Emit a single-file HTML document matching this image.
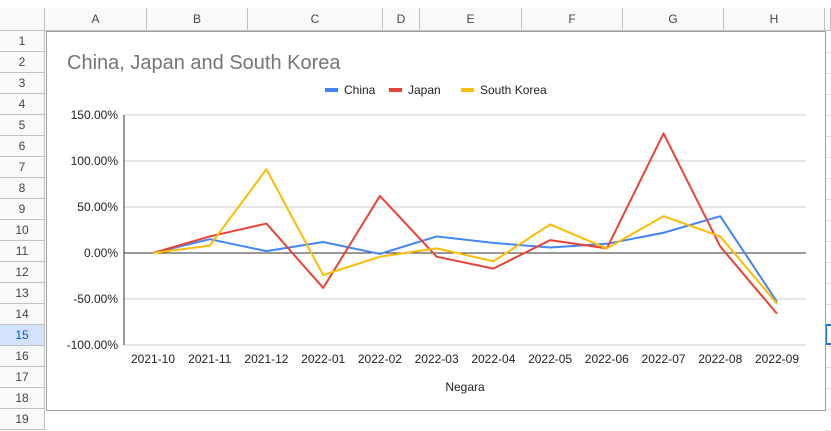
<!DOCTYPE html>
<html><head><meta charset="utf-8"><style>
body{margin:0;width:831px;height:419px;overflow:hidden;background:#fff;font-family:"Liberation Sans",Arial,sans-serif;position:relative}
.hdr{position:absolute;background:#f8f9fa;color:#444;font-size:12px;text-align:center;box-sizing:border-box;border-right:1px solid #c0c0c0;border-bottom:1px solid #c0c0c0}
</style></head><body>
<div id="grid"></div>
<svg id="chart" width="780" height="380" style="position:absolute;left:46px;top:31px;background:#fff;border:1px solid #9e9e9e;box-sizing:border-box"></svg>
<script>
const categories=["2021-10","2021-11","2021-12","2022-01","2022-02","2022-03","2022-04","2022-05","2022-06","2022-07","2022-08","2022-09"];
const china=[0,15,2,12,-1,18,11,6,10,22,40,-53];
const japan=[0,18,32,-38,62,-4,-17,14,5,130,7,-66];
const korea=[0,8,91,-24,-4,5,-9,31,5,40,18,-55];
const yTicks=[150,100,50,0,-50,-100];
const yTickLabels=["150.00%","100.00%","50.00%","0.00%","-50.00%","-100.00%"];

// spreadsheet
const grid=document.getElementById('grid');
const cols=[["A",45,147],["B",147,248],["C",248,383],["D",383,420],["E",420,522],["F",522,623],["G",623,724],["H",724,825]];
function mk(x,y,w,h,t,name,bg,col){const d=document.createElement('div');d.className='hdr';


d.style.cssText=`left:${x}px;top:${y}px;width:${w}px;height:${h}px;line-height:${h}px;${bg?'background:'+bg+';':''}${col?'color:'+col+';':''}`;d.textContent=t;grid.appendChild(d);}
mk(0,8,45,23,"","select-all-corner","#f8f9fa");
cols.forEach(c=>mk(c[1],8,c[2]-c[1],23,c[0],"column-header-"+c[0].toLowerCase()));
mk(825,8,6,23,"","column-header-next");
for(let r=1;r<=19;r++){mk(0,31+21*(r-1),45,21,String(r),"row-header-"+r,r==15?"#d3e3fd":null,r==15?"#0b57d0":null);}
for(let r=1;r<=19;r++){const l=document.createElement('div');l.style.cssText=`position:absolute;left:825px;top:${31+21*r}px;width:6px;height:1px;background:#e2e2e2`;grid.appendChild(l);}
const sel=document.createElement('div');sel.style.cssText='position:absolute;left:825px;top:324px;width:6px;height:21px;border:2px solid #1a73e8;border-right:none;box-sizing:border-box';


grid.appendChild(sel);

// chart (coords relative to svg at 46,31)
const svg=document.getElementById('chart');const NS="http://www.w3.org/2000/svg";
function el(t,a,txt){const e=document.createElementNS(NS,t);for(const k in a)e.setAttribute(k,a[k]);if(txt!==undefined)e.textContent=txt;svg.appendChild(e);return e;}
const x0=123-46,x1=805-46;
const y=v=>(252-31)-v*0.92;
const x=i=>(152-46)+i*((776-152)/11);
let t=el('text',{x:20,y:37,'font-size':20,fill:'#757575'},"China, Japan and South Korea");


yTicks.forEach((v,i)=>{
 if(v!==0){const g=el('line',{x1:x0,x2:x1,y1:y(v),y2:y(v),stroke:'#ccc','stroke-width':1});
 
 }
 const l=el('text',{x:x0-6,y:y(v)+4,'font-size':12,fill:'#222','text-anchor':'end'},yTickLabels[i]);
 
 
});
categories.forEach((c,i)=>{const l=el('text',{x:x(i),y:y(-100)+18,'font-size':12,fill:'#222','text-anchor':'middle'},c);
 
 });
let a=el('line',{x1:x0,x2:x0,y1:y(150),y2:y(-100),stroke:'#333','stroke-width':1});


a=el('line',{x1:x0,x2:x1,y1:y(0),y2:y(0),stroke:'#333','stroke-width':1});


let xt=el('text',{x:(x0+x1)/2,y:359,'font-size':12,fill:'#222','text-anchor':'middle'},"Negara");


const series=[["China",china,"#4285f4"],["Japan",japan,"#ea4335"],["South Korea",korea,"#fbbc04"]];
series.forEach(s=>{const p=el('polyline',{points:s[1].map((v,i)=>x(i)+','+y(v)).join(' '),fill:'none',stroke:s[2],'stroke-width':2,'stroke-linejoin':'round'});
 
 });
const lx=[278,342,414];
series.forEach((s,i)=>{const r=el('rect',{x:lx[i],y:56,width:13,height:4,fill:s[2]});
 
 
 const l=el('text',{x:lx[i]+19,y:62,'font-size':12,fill:'#222'},s[0]);
 
 });
</script>
</body></html>
